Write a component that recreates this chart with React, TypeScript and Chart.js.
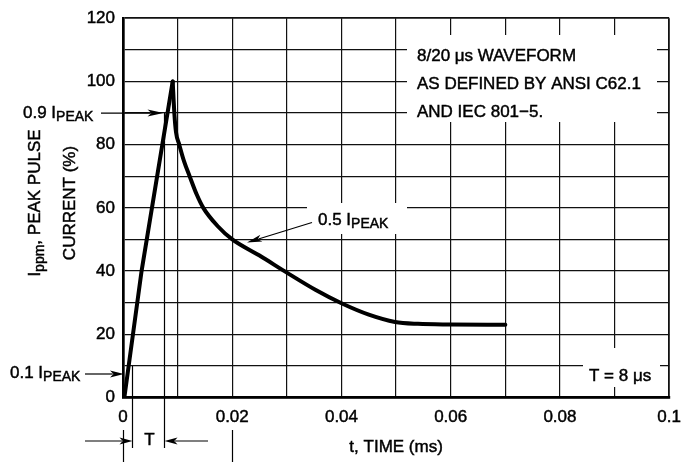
import React, { useEffect, useRef } from "react";
import { Chart, registerables } from "chart.js";

Chart.register(...registerables);

// ---- data ----
const riseTime = [0.00025, 0.0034, 0.0091];
const riseCurrent = [0, 40, 100];
const decayTime = [0.0091, 0.0094, 0.0097, 0.0103, 0.0112, 0.0122, 0.0135, 0.0147, 0.0174, 0.02, 0.025, 0.03, 0.0353, 0.04, 0.045, 0.0498, 0.054, 0.06, 0.07];
const decayCurrent = [100, 90, 84, 80, 74.6, 70, 64.2, 60, 54.1, 50, 44.9, 39.5, 34, 29.8, 26.2, 23.9, 23.3, 23.1, 23.0];
const xTickLabels = ["0", "0.02", "0.04", "0.06", "0.08", "0.1"];
const yTickLabels = ["0", "20", "40", "60", "80", "100", "120"];
const noteLines = ["8/20 \u03bcs WAVEFORM", "AS DEFINED BY ANSI C62.1", "AND IEC 801\u22125."];
const tMarkerTimes = [0.0016, 0.0075];
const tMarkerLevels = [10, 90];

const FONT = "Liberation Sans, Arial, Helvetica, sans-serif";
const MAIN = `17px ${FONT}`;
const SUB = `14px ${FONT}`;
const STROKE = 0.45;

function txt(ctx: CanvasRenderingContext2D, t: string, x: number, y: number) {
  ctx.fillText(t, x, y);
  ctx.save();
  ctx.lineWidth = STROKE;
  ctx.strokeText(t, x, y);
  ctx.restore();
}

function drawSub(ctx: CanvasRenderingContext2D, x: number, y: number, parts: [string, boolean][]) {
  ctx.textBaseline = "middle";
  ctx.textAlign = "left";
  let cx = x;
  for (const [t, sub] of parts) {
    ctx.font = sub ? SUB : MAIN;
    txt(ctx, t, cx, sub ? y + 4 : y);
    cx += ctx.measureText(t).width;
  }
}

function arrow(ctx: CanvasRenderingContext2D, x1: number, y1: number, x2: number, y2: number, len = 14, half = 3.5) {
  const ang = Math.atan2(y2 - y1, x2 - x1);
  ctx.beginPath();
  ctx.moveTo(x1, y1);
  ctx.lineTo(x2 - Math.cos(ang) * len * 0.8, y2 - Math.sin(ang) * len * 0.8);
  ctx.stroke();
  ctx.beginPath();
  ctx.moveTo(x2, y2);
  ctx.lineTo(x2 - Math.cos(ang) * len - Math.sin(ang) * half, y2 - Math.sin(ang) * len + Math.cos(ang) * half);
  ctx.lineTo(x2 - Math.cos(ang) * len * 0.75, y2 - Math.sin(ang) * len * 0.75);
  ctx.lineTo(x2 - Math.cos(ang) * len + Math.sin(ang) * half, y2 - Math.sin(ang) * len - Math.cos(ang) * half);
  ctx.closePath();
  ctx.fill();
}

const boxesPlugin = {
  id: "boxes",
  beforeDatasetsDraw(chart: any) {
    const ctx = chart.ctx as CanvasRenderingContext2D;
    ctx.save();
    ctx.fillStyle = "#fff";
    ctx.fillRect(407, 35, 250, 87);
    ctx.fillRect(307, 203, 100, 31);
    ctx.fillRect(583, 348, 77, 39);
    ctx.restore();
  },
  afterDraw(chart: any) {
    const ctx = chart.ctx as CanvasRenderingContext2D;
    const xs = chart.scales.x;
    const ys = chart.scales.y;
    ctx.save();
    ctx.fillStyle = "#000";
    ctx.strokeStyle = "#000";
    ctx.lineWidth = 1.2;

    // note lines
    ctx.font = MAIN;
    ctx.textBaseline = "middle";
    ctx.textAlign = "left";
    noteLines.forEach((t, i) => txt(ctx, t, 417, 56 + i * 28));

    // T = 8 us
    txt(ctx, "T = 8 \u03bcs", 589, 376);

    // 0.9 I_PEAK
    const y90 = ys.getPixelForValue(90);
    drawSub(ctx, 23, y90, [["0.9 I", false], ["PEAK", true]]);
    arrow(ctx, 101, y90, 163.5, y90, 16, 3.5);

    // 0.1 I_PEAK
    drawSub(ctx, 10, 373.5, [["0.1 I", false], ["PEAK", true]]);
    arrow(ctx, 85, 374, 124, 374, 14, 3.5);

    // 0.5 I_PEAK
    drawSub(ctx, 318, 220, [["0.5 I", false], ["PEAK", true]]);
    arrow(ctx, 312, 222.5, 247, 242.5, 15, 3.5);

    // T markers
    const bottom = 448;
    tMarkerTimes.forEach((t, i) => {
      const px = Math.round(xs.getPixelForValue(t)) + 0.5;
      ctx.beginPath();
      ctx.moveTo(px, ys.getPixelForValue(tMarkerLevels[i]));
      ctx.lineTo(px, bottom);
      ctx.stroke();
    });
    const xa = Math.round(xs.getPixelForValue(tMarkerTimes[0])) + 0.5;
    const xb = Math.round(xs.getPixelForValue(tMarkerTimes[1])) + 0.5;
    arrow(ctx, 85, 441, xa, 441, 13, 3.5);
    arrow(ctx, 208, 441, xb, 441, 13, 3.5);
    ctx.font = MAIN;
    ctx.textAlign = "center";
    txt(ctx, "T", (xa + xb) / 2 + 1, 440);

    // small lines below axis
    [0, 0.02].forEach((v) => {
      const px = Math.round(xs.getPixelForValue(v)) + 0.5;
      ctx.beginPath();
      ctx.moveTo(px, 430);
      ctx.lineTo(px, 462);
      ctx.stroke();
    });

    // x title
    ctx.font = MAIN;
    ctx.textAlign = "center";
    txt(ctx, "t, TIME (ms)", (xs.left + xs.right) / 2, 447);

    // y title (rotated)
    ctx.save();
    ctx.rotate(-Math.PI / 2);
    const parts: [string, boolean][] = [["I", false], ["ppm", true], [", PEAK PULSE", false]];
    let w = 0;
    for (const [t, s] of parts) {
      ctx.font = s ? SUB : MAIN;
      w += ctx.measureText(t).width;
    }
    const cy = 203;
    let cx = -cy - w / 2;
    ctx.textAlign = "left";
    ctx.textBaseline = "alphabetic";
    for (const [t, s] of parts) {
      ctx.font = s ? SUB : MAIN;
      txt(ctx, t, cx, s ? 44 : 40);
      cx += ctx.measureText(t).width;
    }
    ctx.font = MAIN;
    ctx.textAlign = "center";
    txt(ctx, "CURRENT (%)", -cy, 75);
    ctx.restore();

    ctx.restore();
  },
};

export default function App() {
  const ref = useRef<HTMLCanvasElement>(null);
  useEffect(() => {
    if (!ref.current) return;
    const lineStyle = {
      borderColor: "#000",
      borderWidth: 4,
      pointRadius: 0,
      fill: false,
      borderCapStyle: "round" as const,
      borderJoinStyle: "round" as const,
    };
    const tickFont = { family: FONT, size: 17 };
    const chart = new Chart(ref.current, {
      type: "line",
      data: {
        datasets: [
          { ...lineStyle, data: riseTime.map((x, i) => ({ x, y: riseCurrent[i] })), tension: 0 },
          {
            ...lineStyle,
            data: decayTime.map((x, i) => ({ x, y: decayCurrent[i] })),
            cubicInterpolationMode: "monotone",
          },
        ],
      },
      options: {
        responsive: false,
        animation: false,
        events: [],
        layout: { padding: { left: 0, top: 13, right: 20, bottom: 0 } },
        plugins: { legend: { display: false }, tooltip: { enabled: false } },
        scales: {
          x: {
            type: "linear",
            min: 0,
            max: 0.1,
            afterFit: (s: any) => {
              s.height = 64.5;
            },
            ticks: {
              stepSize: 0.01,
              color: "#000",
              font: tickFont,
              padding: 10,
              maxRotation: 0,
              autoSkip: false,
              textStrokeColor: "#000",
              textStrokeWidth: STROKE,
              callback: (v: any) => {
                const k = Math.round(Number(v) * 100);
                return k % 2 === 0 ? xTickLabels[k / 2] : "";
              },
            },
            grid: {
              color: "#111",
              lineWidth: (c: any) => (c.tick && Math.abs(c.tick.value - 0.1) < 1e-9 ? 1.8 : 1.2),
              drawTicks: false,
            },
            border: { color: "#000", width: 2.7 },
          },
          y: {
            type: "linear",
            min: 0,
            max: 120,
            afterFit: (s: any) => {
              s.width = 123;
            },
            ticks: {
              stepSize: 10,
              color: "#000",
              font: tickFont,
              padding: 8,
              autoSkip: false,
              textStrokeColor: "#000",
              textStrokeWidth: STROKE,
              callback: (v: any) => {
                const k = Math.round(Number(v) / 10);
                return k % 2 === 0 ? yTickLabels[k / 2] : "";
              },
            },
            grid: {
              color: "#111",
              lineWidth: (c: any) => (c.tick && c.tick.value === 120 ? 1.8 : 1.2),
              drawTicks: false,
            },
            border: { color: "#000", width: 2.7 },
          },
        },
      },
      plugins: [boxesPlugin],
    });
    return () => chart.destroy();
  }, []);
  return (
    <div style={{ position: "absolute", left: 0, top: 0, width: 691, height: 462, background: "#fff" }}>
      <canvas ref={ref} width={691} height={462} />
    </div>
  );
}
